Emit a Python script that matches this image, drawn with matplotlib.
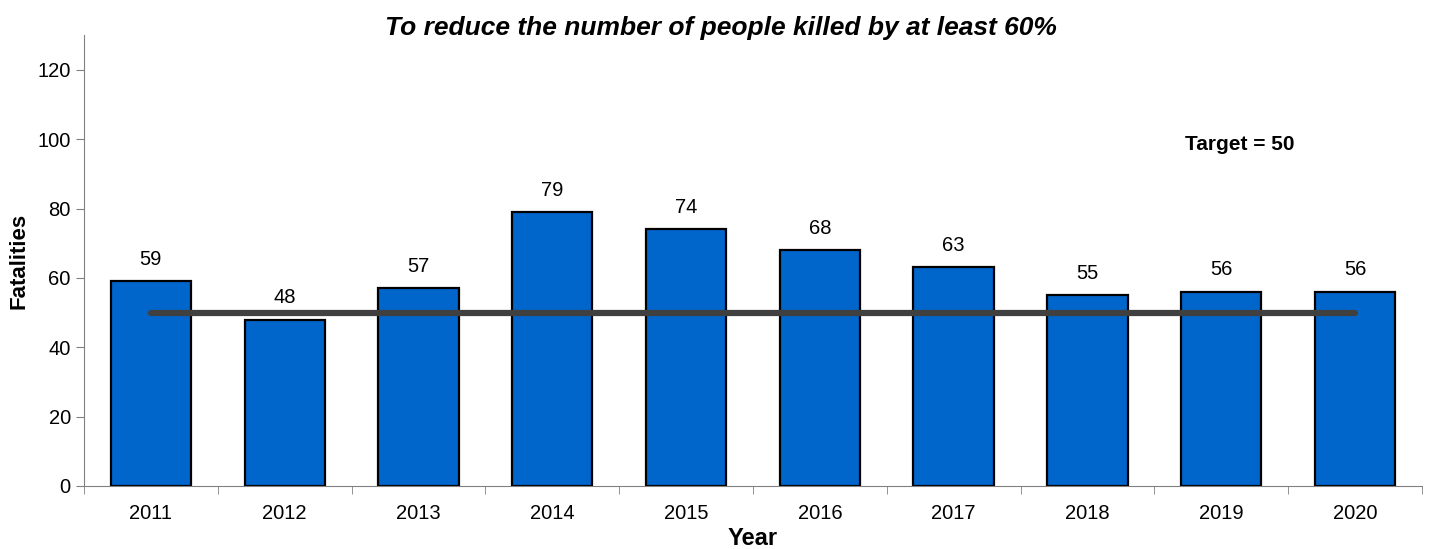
import matplotlib.pyplot as plt
import numpy as np

plt.rcParams['font.family'] = ['Liberation Sans', 'DejaVu Sans']

years = ['2011', '2012', '2013', '2014', '2015', '2016', '2017', '2018', '2019', '2020']
fatalities = [59, 48, 57, 79, 74, 68, 63, 55, 56, 56]
target = 50

fig = plt.figure(figsize=(14.29, 5.49), dpi=100)
ax = fig.add_axes([0.0588, 0.1148, 0.9362, 0.8212])

x = np.arange(len(years))
bars = ax.bar(x, fatalities, width=0.6, color='#0066CC', edgecolor='black', linewidth=1.6, zorder=2)
ax.plot([x[0], x[-1]], [target, target], color='#404040', lw=4.5, solid_capstyle='round', zorder=3)

for xi, v in zip(x, fatalities):
    ax.annotate(str(v), (xi, v), xytext=(0, 9), textcoords='offset points',
                ha='center', va='bottom', fontsize=14.5)

ax.text(8.14, 98.5, 'Target = 50', ha='center', va='center', fontsize=15, fontweight='bold')

ax.set_xlim(-0.5, len(years) - 0.5)
ax.set_ylim(0, 130)
ax.set_yticks(range(0, 121, 20))
ax.set_xticks(x)
ax.set_xticklabels(years, fontsize=14.5)
ax.set_xticks(np.arange(-0.5, len(years)), minor=True)
ax.tick_params(axis='x', which='major', length=0, pad=13)
ax.tick_params(axis='x', which='minor', length=6, color='#808080')
ax.tick_params(axis='y', labelsize=14.5, length=6, color='#808080')

for s in ['top', 'right']:
    ax.spines[s].set_visible(False)
for s in ['left', 'bottom']:
    ax.spines[s].set_color('#808080')

ax.set_ylabel('Fatalities', fontsize=16, fontweight='bold', labelpad=6)
ax.set_xlabel('Year', fontsize=17, fontweight='bold', labelpad=3)
fig.text(721 / 1429, 1 - 35 / 549, 'To reduce the number of people killed by at least 60%',
         fontsize=19, fontweight='bold', fontstyle='italic', ha='center', va='baseline')

fig.savefig('out.png', dpi=100)
